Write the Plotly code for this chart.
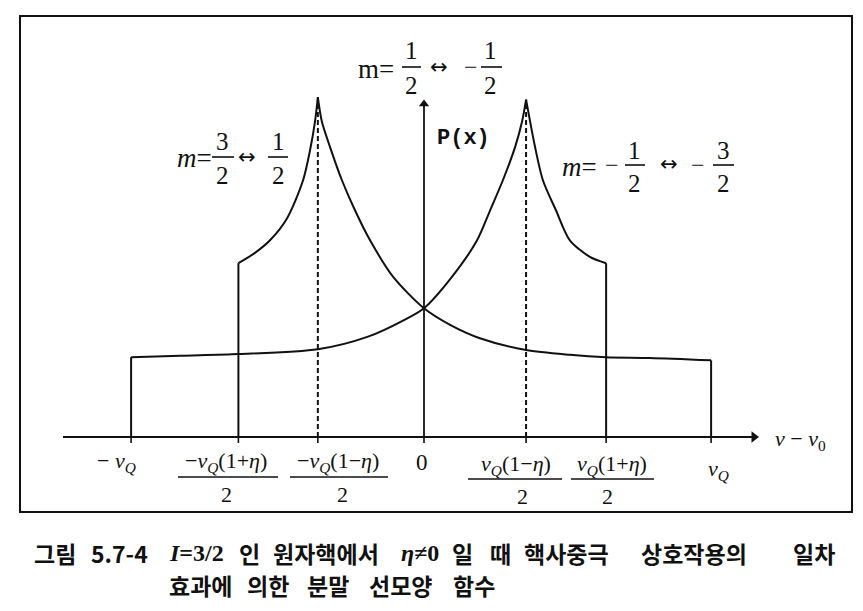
import plotly.graph_objects as go

# ---------------- data ----------------
# x in units of nu_Q, y in units of the flat plateau height
tick_x = [-1.01, -0.64, -0.366, 0.0, 0.352, 0.628, 0.99]

# transition m = 3/2 <-> 1/2
a_rise_x = [-0.64, -0.583, -0.531, -0.472, -0.417, -0.393, -0.376, -0.366]
a_rise_y = [2.20, 2.33, 2.49, 2.77, 3.25, 3.63, 3.99, 4.30]
a_fall_x = [-0.366, -0.352, -0.324, -0.283, -0.238, -0.186, -0.107, 0.0,
            0.090, 0.193, 0.352, 0.503, 0.628, 0.779, 0.99]
a_fall_y = [4.30, 3.99, 3.67, 3.25, 2.87, 2.49, 2.03, 1.63,
            1.42, 1.25, 1.10, 1.04, 1.01, 1.00, 0.97]

# transition m = -1/2 <-> -3/2
b_rise_x = [-1.01, -0.841, -0.64, -0.366, -0.193, -0.069, 0.0,
            0.097, 0.183, 0.228, 0.272, 0.314, 0.338, 0.352]
b_rise_y = [1.01, 1.03, 1.05, 1.11, 1.27, 1.48, 1.63,
            2.03, 2.49, 2.87, 3.25, 3.67, 3.99, 4.27]
b_fall_x = [0.352, 0.366, 0.383, 0.410, 0.455, 0.503, 0.572, 0.628]
b_fall_y = [4.27, 3.99, 3.67, 3.25, 2.87, 2.49, 2.28, 2.20]

caption_line1 = [("그림", 33), ("5.7-4", 90), ("<i>I</i>=3/2", 168), ("인", 238),
                 ("원자핵에서", 272), ("<i>η</i>≠0", 400), ("일", 451), ("때", 489),
                 ("핵사중극", 523), ("상호작용의", 640), ("일차", 792)]
caption_line2 = [("효과에", 168), ("의한", 246), ("분말", 306), ("선모양", 368), ("함수", 452)]

# ---------------- layout helpers ----------------
W, H = 863, 611
OFF = 8               # default page margin of the html body
X0, SX = 424, 290     # page pixel of x=0, pixels per unit
Y0, SY = 437, 79      # page pixel of y=0, pixels per unit

def px2x(px):
    return (px - X0) / SX

def py2y(py):
    return (Y0 - py) / SY

def pp_x(px):
    return (px - OFF) / W

def pp_y(py):
    return 1 - (py - OFF) / H

SERIF = "Liberation Serif"
BLACK = "#111111"

fig = go.Figure()
LW = 2.0

def seg(xs, ys, shape="linear", dash="solid"):
    fig.add_trace(go.Scatter(x=xs, y=ys, mode="lines", hoverinfo="skip",
                             line=dict(color=BLACK, width=LW, shape=shape,
                                       smoothing=0.8, dash=dash),
                             showlegend=False))

# transition A
seg([tick_x[1], tick_x[1]], [0, a_rise_y[0]])
seg(a_rise_x, a_rise_y, "spline")
seg(a_fall_x, a_fall_y, "spline")
seg([tick_x[6], tick_x[6]], [a_fall_y[-1], 0])
# transition B
seg([tick_x[0], tick_x[0]], [0, b_rise_y[0]])
seg(b_rise_x, b_rise_y, "spline")
seg(b_fall_x, b_fall_y, "spline")
seg([tick_x[5], tick_x[5]], [b_fall_y[-1], 0])
# dashed lines at the singularities
seg([tick_x[2], tick_x[2]], [0, a_rise_y[-1]], dash="5px,3px")
seg([tick_x[4], tick_x[4]], [0, b_rise_y[-1]], dash="5px,3px")

# axes
x_ax_start = px2x(63)
x_ax_end = px2x(754)
y_ax_end = py2y(104)
fig.add_trace(go.Scatter(x=[x_ax_start, x_ax_end], y=[0, 0], mode="lines",
                         line=dict(color=BLACK, width=1.8), hoverinfo="skip"))
fig.add_trace(go.Scatter(x=[0, 0], y=[0, y_ax_end], mode="lines",
                         line=dict(color=BLACK, width=1.8), hoverinfo="skip"))
fig.add_trace(go.Scatter(x=[x_ax_end], y=[0], mode="markers", hoverinfo="skip",
                         marker=dict(symbol="triangle-right", size=10, color=BLACK)))
fig.add_trace(go.Scatter(x=[0], y=[y_ax_end], mode="markers", hoverinfo="skip",
                         marker=dict(symbol="triangle-up", size=9, color=BLACK)))

shapes = []
ann = []

# frame
shapes.append(dict(type="rect", xref="paper", yref="paper",
                   x0=pp_x(20), x1=pp_x(852), y0=pp_y(512), y1=pp_y(16),
                   line=dict(color=BLACK, width=2)))

# tick marks (below the axis)
for t in tick_x:
    shapes.append(dict(type="line", xref="x", yref="y", x0=t, x1=t,
                       y0=0, y1=py2y(443), line=dict(color=BLACK, width=1.6)))

def text(px, py, s, size=20, family=SERIF, xanchor="center", weight="normal"):
    ann.append(dict(x=pp_x(px), y=pp_y(py), xref="paper", yref="paper",
                    text=s, showarrow=False, xanchor=xanchor, yanchor="middle",
                    borderpad=0,
                    font=dict(family=family, size=size, color=BLACK, weight=weight)))

def bar(x0, x1, py, w=1.6):
    shapes.append(dict(type="line", xref="paper", yref="paper",
                       x0=pp_x(x0), x1=pp_x(x1), y0=pp_y(py), y1=pp_y(py),
                       line=dict(color=BLACK, width=w)))

def frac(cx, num_y, bar_y, den_y, bx0, bx1, num, den, size=20, dcx=None):
    text(cx, num_y, num, size)
    bar(bx0, bx1, bar_y)
    text(cx if dcx is None else dcx, den_y, den, size)

NU = "<i>ν</i><sub><i>Q</i></sub>"

# tick labels
text(116, 462, "−&nbsp;" + NU, 22)
frac(226, 462, 477, 494, 178, 278, "−" + NU + "(1+<i>η</i>)", "2", 22, dcx=226)
frac(338, 462, 477, 494, 290, 388, "−" + NU + "(1−<i>η</i>)", "2", 22, dcx=342)
text(422, 462, "0", 23)
frac(516, 465, 479, 496, 468, 562, NU + "(1−<i>η</i>)", "2", 22, dcx=522)
frac(612, 465, 479, 496, 571, 654, NU + "(1+<i>η</i>)", "2", 22, dcx=607)
text(718, 470, NU, 22)
text(800, 440, "<i>ν</i> − <i>ν</i><sub>0</sub>", 22)

# P(x)
text(463, 139, "P(x)", 22, family="Liberation Mono", weight="bold")

ARW = "DejaVu Sans"
# top label  m = 1/2 <-> -1/2
text(376, 69, "m=", 27)
frac(411, 51, 67, 85, 402, 421, "1", "2", 25)
text(439, 67, "↔", 21, family=ARW)
text(471, 67, "−", 24)
frac(491, 51, 67, 85, 481, 502, "1", "2", 25)

# left label  m = 3/2 <-> 1/2
text(194, 158, "<i>m</i>=", 27)
frac(222, 141, 157, 175, 212, 234, "3", "2", 25)
text(247, 157, "↔", 21, family=ARW)
frac(278, 142, 157, 175, 268, 288, "1", "2", 25)

# right label  m = -1/2 <-> -3/2
text(579, 167, "<i>m</i>=", 27)
text(612, 165, "−", 24)
frac(634, 150, 165, 183, 625, 645, "1", "2", 25)
text(669, 164, "↔", 21, family=ARW)
text(698, 165, "−", 24)
frac(723, 150, 165, 183, 713, 734, "3", "2", 25)

# caption
CJK = "Noto Sans CJK KR"
for s, x in caption_line1:
    if "<i>" in s:
        text(x, 553, s, 24, family=SERIF, xanchor="left", weight="bold")
    else:
        text(x, 553, s, 23, family=CJK, xanchor="left", weight="bold")
for s, x in caption_line2:
    text(x, 585, s, 23, family=CJK, xanchor="left", weight="bold")

fig.update_layout(
    width=W, height=H, autosize=False,
    margin=dict(l=0, r=0, t=0, b=0),
    paper_bgcolor="white", plot_bgcolor="white",
    xaxis=dict(range=[px2x(OFF), px2x(OFF + W)], visible=False, fixedrange=True),
    yaxis=dict(range=[py2y(OFF + H), py2y(OFF)], visible=False, fixedrange=True),
    shapes=shapes, annotations=ann, showlegend=False,
)

fig.write_html("out.html")
